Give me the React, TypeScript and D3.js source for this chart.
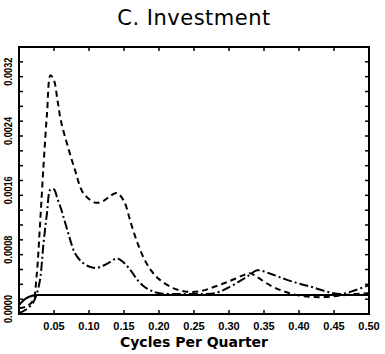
import React from 'react';
import { scaleLinear, line, curveCatmullRom, range } from 'd3';

// frequency grid (cycles per quarter)
const freq = [0, 0.01, 0.02, 0.025, 0.03, 0.035, 0.04, 0.045, 0.05, 0.055, 0.06,
  0.07, 0.08, 0.09, 0.10, 0.11, 0.12, 0.13, 0.14, 0.15, 0.16, 0.17, 0.18, 0.19, 0.20,
  0.22, 0.24, 0.26, 0.28, 0.30, 0.32, 0.33, 0.34, 0.36, 0.38, 0.40, 0.42, 0.44, 0.46, 0.48, 0.50];

const dashedVals = [0.00008, 0.0001, 0.00018, 0.0005, 0.0012, 0.002, 0.0027, 0.00322, 0.00315, 0.00288, 0.0026,
  0.00225, 0.00194, 0.00166, 0.00155, 0.0015, 0.00152, 0.00159, 0.00163, 0.00152, 0.00122, 0.00094, 0.00072, 0.00057, 0.00047,
  0.00035, 0.0003, 0.00031, 0.00037, 0.00044, 0.00052, 0.00055, 0.0005, 0.00038, 0.0003, 0.00025, 0.00023, 0.00023, 0.00025, 0.00027, 0.00028];

const dashDotVals = [0.00001, 0.00006, 0.00015, 0.00026, 0.00046, 0.00095, 0.00136, 0.00168, 0.00168, 0.00155, 0.00142,
  0.0011, 0.00082, 0.0007, 0.00064, 0.00062, 0.00065, 0.0007, 0.00075, 0.00069, 0.00058, 0.00045, 0.00036, 0.00031, 0.00028,
  0.00027, 0.00027, 0.00027, 0.00028, 0.00036, 0.00047, 0.00053, 0.00059, 0.00054, 0.00047, 0.00041, 0.00036, 0.0003, 0.00027, 0.00032, 0.00039];

const solidVals = [0.00012, 0.00021, 0.00025, 0.000255, 0.000256, 0.000256, 0.000256, 0.000256, 0.000256, 0.000256, 0.000256,
  0.000256, 0.000256, 0.000256, 0.000256, 0.000256, 0.000256, 0.000256, 0.000256, 0.000256, 0.000256, 0.000256, 0.000256, 0.000256, 0.000256,
  0.000256, 0.000256, 0.000256, 0.000256, 0.000256, 0.000256, 0.000256, 0.000256, 0.000256, 0.000256, 0.000256, 0.000256, 0.000256, 0.000256, 0.000256, 0.000256];

const xTickLabels = ['0.05', '0.10', '0.15', '0.20', '0.25', '0.30', '0.35', '0.40', '0.45', '0.50'];
const yTickLabels = ['0.0000', '0.0008', '0.0016', '0.0024', '0.0032'];

const App = () => {
  const width = 385
  const height = 354
  const left = 19
  const right = 369
  const top = 47
  const bottom = 314

  const x = scaleLinear().domain([0, 0.5]).range([left, right])
  const y = scaleLinear().domain([0, 0.0036]).range([bottom, top])

  const path = (vals: number[]) =>
    line<number>()
      .x((d, i) => x(freq[i]))
      .y(d => y(d))
      .curve(curveCatmullRom.alpha(0.5))(vals) || ''

  const minorY = range(0, 18).map(i => i * 0.0002)
  const font = '"Liberation Sans", Arial, sans-serif'

  return (
    <svg width={width} height={height} style={{ position: 'absolute', left: 0, top: 0, background: '#fff' }}>
      <text x={194} y={25} textAnchor="middle" fontFamily='"DejaVu Sans", sans-serif' fontSize={21} letterSpacing={0.5}>
        C. Investment
      </text>

      {/* curves */}
      <path d={path(solidVals)} fill="none" stroke="#000" strokeWidth={2} />
      <path d={path(dashedVals)} fill="none" stroke="#000" strokeWidth={2} strokeDasharray="6 4" />
      <path d={path(dashDotVals)} fill="none" stroke="#000" strokeWidth={2} strokeDasharray="9 3 2 3" />

      {/* frame */}
      <rect x={left} y={top} width={right - left} height={bottom - top} fill="none" stroke="#000" strokeWidth={2} />

      {xTickLabels.map(t => {
        const xv = x(+t)
        return (
          <g key={`xt-${t}`}>
            <line x1={xv} x2={xv} y1={bottom} y2={bottom - 4} stroke="#000" strokeWidth={1.5} />
            <line x1={xv} x2={xv} y1={top} y2={top + 4} stroke="#000" strokeWidth={1.5} />
            <text x={xv} y={330} textAnchor="middle" fontFamily={font} fontWeight="bold" fontSize={11}>{t}</text>
          </g>
        )
      })}

      {minorY.map(v => (
        <g key={`ym-${v}`}>
          <line x1={left} x2={left + 4} y1={y(v)} y2={y(v)} stroke="#000" strokeWidth={1.5} />
          <line x1={right} x2={right - 4} y1={y(v)} y2={y(v)} stroke="#000" strokeWidth={1.5} />
        </g>
      ))}

      {yTickLabels.map(t => (
        <text
          key={`yt-${t}`}
          transform={`translate(12, ${y(+t) - 5}) rotate(-90)`}
          textAnchor="middle"
          fontFamily={font}
          fontWeight="bold"
          fontSize={11}
          textLength={28}
          lengthAdjust="spacingAndGlyphs"
        >
          {t}
        </text>
      ))}

      <text x={194} y={347} textAnchor="middle" fontFamily='"DejaVu Sans", sans-serif' fontWeight="bold" fontSize={14}>
        Cycles Per Quarter
      </text>
    </svg>
  )
}

export default App
